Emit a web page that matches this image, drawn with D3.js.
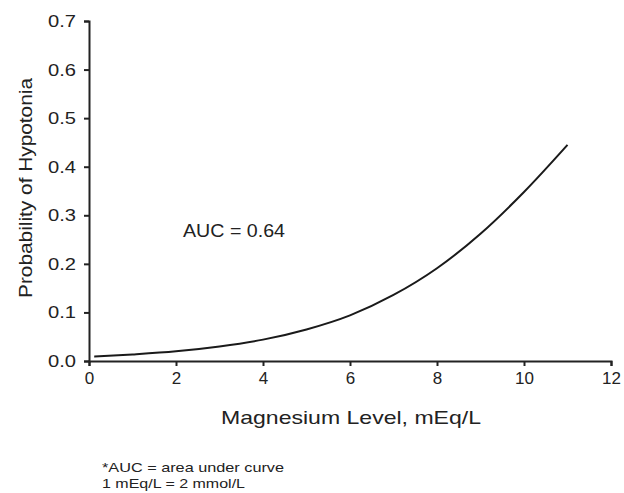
<!DOCTYPE html>
<html>
<head>
<meta charset="utf-8">
<script src="https://cdn.jsdelivr.net/npm/d3@7"></script>
<style>
  body { margin: 0; background: #fff; }
  svg text { font-family: "Liberation Sans", Arial, sans-serif; fill: #222; }
</style>
</head>
<body>
<div class="viz"></div>
<script>
// values
const magnesium = [0.12, 1, 2, 3, 4, 5, 6, 7, 8, 9, 10, 11]
const probability = [0.009, 0.0135, 0.020, 0.030, 0.044, 0.065, 0.094, 0.136, 0.191, 0.262, 0.348, 0.445]
const xTicks = [0, 2, 4, 6, 8, 10, 12]
const yTicks = [0, 0.1, 0.2, 0.3, 0.4, 0.5, 0.6, 0.7]
const aucLabel = 'AUC = 0.64'
const footnotes = ['*AUC = area under curve', '1 mEq/L = 2 mmol/L']

const width = 624
const height = 493
const margin = { top: 21, right: 13, bottom: 132, left: 89 }

const svg = d3.select('.viz')
  .append('svg')
    .attr('width', width)
    .attr('height', height)

const x = d3.scaleLinear().domain([0, 12]).range([margin.left, width - margin.right])
const y = d3.scaleLinear().domain([0, 0.7]).range([height - margin.bottom, margin.top])

// axes
const xAxis = svg.append('g')
  .attr('transform', `translate(0, ${y(0)})`)
  .call(d3.axisBottom(x).tickValues(xTicks).tickFormat(d3.format('d')).tickSize(5).tickPadding(6))
const yAxis = svg.append('g')
  .attr('transform', `translate(${x(0)}, 0)`)
  .call(d3.axisLeft(y).tickValues(yTicks).tickFormat(d3.format('.1f')).tickSize(5).tickPadding(8))

;[xAxis, yAxis].forEach(g => {
  g.select('.domain').attr('stroke', '#222').attr('stroke-width', 2)
  g.selectAll('.tick line').attr('stroke', '#222').attr('stroke-width', 2)
  g.selectAll('.tick text').attr('font-size', 17).attr('fill', '#222')
    .attr('font-family', '"Liberation Sans", Arial, sans-serif')
})
// the scan's digits are a little wider than the font
yAxis.selectAll('.tick text').attr('textLength', 28).attr('lengthAdjust', 'spacingAndGlyphs')

// curve
const line = d3.line()
  .x((d, i) => x(magnesium[i]))
  .y(d => y(d))
  .curve(d3.curveMonotoneX)

svg.append('path')
  .datum(probability)
  .attr('d', line)
  .attr('fill', 'none')
  .attr('stroke', '#1a1a1a')
  .attr('stroke-width', 2)

// labels
svg.append('text')
  .text(aucLabel)
  .attr('x', 183)
  .attr('y', 237)
  .attr('font-size', 18)
  .attr('textLength', 102)
  .attr('lengthAdjust', 'spacingAndGlyphs')

svg.append('text')
  .text('Magnesium Level, mEq/L')
  .attr('x', 351)
  .attr('y', 424)
  .attr('text-anchor', 'middle')
  .attr('font-size', 19)
  .attr('textLength', 260)
  .attr('lengthAdjust', 'spacingAndGlyphs')

svg.append('text')
  .text('Probability of Hypotonia')
  .attr('transform', `translate(32, 188) rotate(-90)`)
  .attr('text-anchor', 'middle')
  .attr('font-size', 19)
  .attr('textLength', 220)
  .attr('lengthAdjust', 'spacingAndGlyphs')

svg.selectAll('.note')
  .data(footnotes).enter().append('text')
    .attr('class', 'note')
    .text(d => d)
    .attr('x', 102)
    .attr('y', (d, i) => 472 + i * 16)
    .attr('font-size', 13)
    .attr('textLength', (d, i) => [182, 143][i])
    .attr('lengthAdjust', 'spacingAndGlyphs')
</script>
</body>
</html>
